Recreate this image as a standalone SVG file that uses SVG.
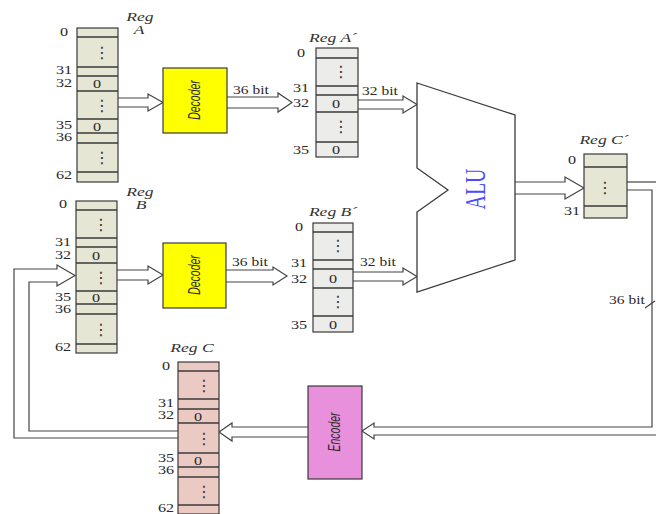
<svg xmlns="http://www.w3.org/2000/svg" width="656" height="514" viewBox="0 0 656 514">
<style>
.box{stroke:#3a3a3a;stroke-width:1.2}
.beige{fill:#e6e6d4}
.light{fill:#ececea}
.pink{fill:#eccac4}
.sep{stroke:#3a3a3a;stroke-width:1.4}
.num{font-family:"Liberation Serif","Times New Roman",serif;font-size:12px;fill:#2a2a2a;text-anchor:middle}
.cell{font-family:"Liberation Serif","Times New Roman",serif;font-size:12px;fill:#2a2a2a;text-anchor:middle}
.dots{font-family:"DejaVu Sans",sans-serif;font-size:16px;fill:#333;text-anchor:middle}
.lbl{font-family:"Liberation Serif","Times New Roman",serif;font-style:italic;font-size:13px;fill:#333;text-anchor:middle}
.bit{font-family:"Liberation Serif","Times New Roman",serif;font-size:11.5px;fill:#2a2a2a;text-anchor:middle}
.conn{fill:none;stroke:#444;stroke-width:1.2}
.harrow{fill:#fff;stroke:#444;stroke-width:1.2}
.unit{font-family:"Liberation Sans",Arial,sans-serif;font-style:italic;font-size:10.5px;fill:#2a2a2a;text-anchor:middle;dominant-baseline:central}
</style>

<g id="connectors">
  <path class="harrow" d="M118,98 L148,98 L148,94 L163,102.5 L148,111 L148,107 L118,107"/>
  <path class="harrow" d="M227,97 L278,97 L278,93 L292,102.5 L278,112 L278,108 L227,108"/>
  <path class="harrow" d="M358,100 L403,100 L403,96 L417,104.5 L403,113 L403,109 L358,109"/>
  <path class="harrow" d="M117,270 L148,270 L148,266 L163,275 L148,284 L148,280 L117,280"/>
  <path class="harrow" d="M226,270 L273,270 L273,267 L287,276 L273,285 L273,282 L226,282"/>
  <path class="harrow" d="M353,272 L403,272 L403,268 L417,276.5 L403,285 L403,281 L353,281"/>
  <path class="harrow" d="M515,182 L565,182 L565,177 L584,188 L565,199 L565,194 L515,194"/>
  <path class="conn" d="M627,182 L656,182"/>
  <path class="harrow" d="M627,190 L652,190 L652,427 L374,427 L374,423 L362,431 L374,439 L374,435 L656,435"/>
  <path class="harrow" d="M308,427 L232,427 L232,423 L219,432 L232,441 L232,437 L308,437"/>
  <path class="harrow" d="M178,431 L29,431 L29,282 L57,282 L57,286 L75,275.5 L57,265 L57,269 L14,269 L14,438 L178,438"/>
  <line class="conn" x1="645" y1="308" x2="655" y2="301"/>
  <text class="bit" transform="translate(627,304) scale(1.35,1)">36 bit</text>
  <text class="bit" transform="translate(251,94) scale(1.35,1)">36 bit</text>
  <text class="bit" transform="translate(250,266) scale(1.35,1)">36 bit</text>
  <text class="bit" transform="translate(380,95) scale(1.35,1)">32 bit</text>
  <text class="bit" transform="translate(378,266) scale(1.35,1)">32 bit</text>
</g>

<g id="regA">
  <rect class="box beige" x="77" y="28" width="41" height="154"/>
  <path class="sep" d="M77,37H118M77,67H118M77,76H118M77,91H118M77,119H118M77,133H118M77,143H118M77,172H118"/>
  <text class="dots" x="102" y="58">⋮</text>
  <text class="dots" x="102" y="111">⋮</text>
  <text class="dots" x="102" y="163">⋮</text>
  <text class="cell" transform="translate(97,88) scale(1.35,1)">0</text>
  <text class="cell" transform="translate(97,130.5) scale(1.35,1)">0</text>
  <text class="num" transform="translate(64,36) scale(1.35,1)">0</text>
  <text class="num" transform="translate(64,74) scale(1.35,1)">31</text>
  <text class="num" transform="translate(64,87) scale(1.35,1)">32</text>
  <text class="num" transform="translate(64,129) scale(1.35,1)">35</text>
  <text class="num" transform="translate(64,141) scale(1.35,1)">36</text>
  <text class="num" transform="translate(64,179) scale(1.35,1)">62</text>
  <text class="lbl" transform="translate(140,21) scale(1.35,1)">Reg</text>
  <text class="lbl" transform="translate(139,34) scale(1.35,1)">A</text>
</g>

<g id="regB">
  <rect class="box beige" x="76" y="201" width="41" height="152"/>
  <path class="sep" d="M76,210H117M76,238H117M76,247H117M76,263H117M76,291H117M76,304H117M76,314H117M76,344H117"/>
  <text class="dots" x="101" y="230">⋮</text>
  <text class="dots" x="101" y="283">⋮</text>
  <text class="dots" x="101" y="335">⋮</text>
  <text class="cell" transform="translate(96,259.5) scale(1.35,1)">0</text>
  <text class="cell" transform="translate(96,301.5) scale(1.35,1)">0</text>
  <text class="num" transform="translate(63,208) scale(1.35,1)">0</text>
  <text class="num" transform="translate(63,246) scale(1.35,1)">31</text>
  <text class="num" transform="translate(63,259) scale(1.35,1)">32</text>
  <text class="num" transform="translate(63,301) scale(1.35,1)">35</text>
  <text class="num" transform="translate(63,313) scale(1.35,1)">36</text>
  <text class="num" transform="translate(63,351) scale(1.35,1)">62</text>
  <text class="lbl" transform="translate(140,196) scale(1.35,1)">Reg</text>
  <text class="lbl" transform="translate(141,209) scale(1.35,1)">B</text>
</g>

<g id="regC">
  <rect class="box pink" x="178" y="362" width="41" height="152"/>
  <path class="sep" d="M178,371H219M178,399H219M178,409H219M178,423H219M178,453H219M178,467H219M178,477H219M178,505H219"/>
  <text class="dots" x="204" y="391">⋮</text>
  <text class="dots" x="204" y="444">⋮</text>
  <text class="dots" x="204" y="497">⋮</text>
  <text class="cell" transform="translate(198,420.5) scale(1.35,1)">0</text>
  <text class="cell" transform="translate(198,464.5) scale(1.35,1)">0</text>
  <text class="num" transform="translate(166,370) scale(1.35,1)">0</text>
  <text class="num" transform="translate(166,407) scale(1.35,1)">31</text>
  <text class="num" transform="translate(166,419) scale(1.35,1)">32</text>
  <text class="num" transform="translate(166,462) scale(1.35,1)">35</text>
  <text class="num" transform="translate(166,474) scale(1.35,1)">36</text>
  <text class="num" transform="translate(166,512) scale(1.35,1)">62</text>
  <text class="lbl" transform="translate(192,352) scale(1.35,1)">Reg C</text>
</g>

<g id="regA2">
  <rect class="box light" x="316" y="48" width="42" height="109"/>
  <path class="sep" d="M316,58H358M316,86H358M316,95H358M316,112H358M316,142H358"/>
  <text class="dots" x="341" y="77">⋮</text>
  <text class="dots" x="341" y="132">⋮</text>
  <text class="cell" transform="translate(336,107.5) scale(1.35,1)">0</text>
  <text class="cell" transform="translate(336,153.5) scale(1.35,1)">0</text>
  <text class="num" transform="translate(301,57) scale(1.35,1)">0</text>
  <text class="num" transform="translate(301,92) scale(1.35,1)">31</text>
  <text class="num" transform="translate(301,107) scale(1.35,1)">32</text>
  <text class="num" transform="translate(301,154) scale(1.35,1)">35</text>
  <text class="lbl" transform="translate(333,42) scale(1.35,1)">Reg A´</text>
</g>

<g id="regB2">
  <rect class="box light" x="313" y="223" width="40" height="109"/>
  <path class="sep" d="M313,232H353M313,260H353M313,269H353M313,288H353M313,316H353"/>
  <text class="dots" x="338" y="251">⋮</text>
  <text class="dots" x="338" y="307">⋮</text>
  <text class="cell" transform="translate(333,282.5) scale(1.35,1)">0</text>
  <text class="cell" transform="translate(333,328.5) scale(1.35,1)">0</text>
  <text class="num" transform="translate(299,231) scale(1.35,1)">0</text>
  <text class="num" transform="translate(299,267) scale(1.35,1)">31</text>
  <text class="num" transform="translate(299,283) scale(1.35,1)">32</text>
  <text class="num" transform="translate(299,329) scale(1.35,1)">35</text>
  <text class="lbl" transform="translate(333,216) scale(1.35,1)">Reg B´</text>
</g>

<g id="regC2">
  <rect class="box beige" x="584" y="154" width="43" height="64"/>
  <path class="sep" d="M584,167H627M584,206H627"/>
  <text class="dots" x="605" y="193">⋮</text>
  <text class="num" transform="translate(572,164) scale(1.35,1)">0</text>
  <text class="num" transform="translate(572,215) scale(1.35,1)">31</text>
  <text class="lbl" transform="translate(604,144) scale(1.35,1)">Reg C´</text>
</g>

<g id="decoderA">
  <rect class="box" x="163" y="68" width="64" height="65" fill="#ffff00"/>
  <text class="unit" transform="translate(195,100) scale(1.5,1) rotate(-90)">Decoder</text>
</g>

<g id="decoderB">
  <rect class="box" x="163" y="243" width="63" height="65" fill="#ffff00"/>
  <text class="unit" transform="translate(194.5,275) scale(1.5,1) rotate(-90)">Decoder</text>
</g>

<g id="alu">
  <polygon points="417,83 515,115 515,260 417,292 417,212 448,190 417,168" fill="#fff" stroke="#3a3a3a" stroke-width="1.3"/>
  <text transform="translate(475,189) scale(1.5,1) rotate(-90)" font-family="Liberation Serif, Times New Roman, serif" font-size="20" fill="#4a4aff" text-anchor="middle" dominant-baseline="central">ALU</text>
</g>

<g id="encoder">
  <rect class="box" x="308" y="386" width="54" height="93" fill="#e890dc"/>
  <text class="unit" transform="translate(335,432) scale(1.5,1) rotate(-90)">Encoder</text>
</g>
</svg>
